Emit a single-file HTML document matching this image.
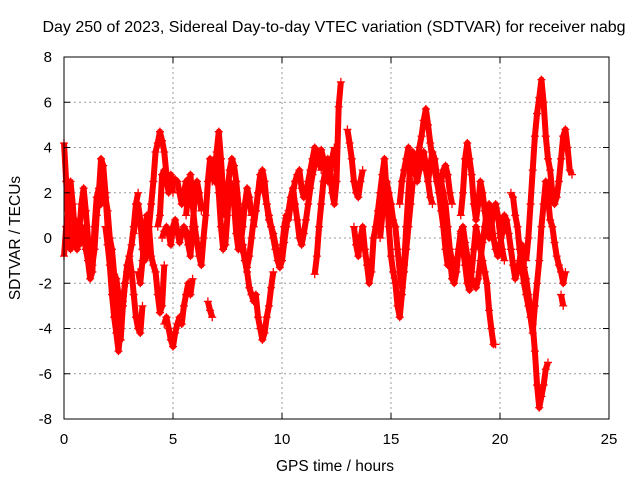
<!DOCTYPE html>
<html><head><meta charset="utf-8"><style>
body{margin:0;background:#fff}
svg{display:block;font-family:"Liberation Sans",sans-serif}
</style></head><body>
<svg id="chart" width="640" height="480" viewBox="0 0 640 480">
<rect width="640" height="480" fill="#fff"/>
<text x="334" y="32" font-size="16" text-anchor="middle">Day 250 of 2023, Sidereal Day-to-day VTEC variation (SDTVAR) for receiver nabg</text>
<g id="grid"></g>
<g id="marks"></g>
<rect x="64" y="57" width="545" height="362" fill="none" stroke="#000" stroke-width="1"/>
<g id="ticks"></g>
<text x="335" y="471" font-size="15.5" text-anchor="middle">GPS time / hours</text>
<text transform="translate(20,238) rotate(-90)" font-size="15.5" text-anchor="middle">SDTVAR / TECUs</text>
</svg>
<script>
const xTicks=[0,5,10,15,20,25];
const yTicks=[-8,-6,-4,-2,0,2,4,6,8];
const trackStarts=[0,0,1.9,3.2,3.4,4.3,4.5,4.6,5.6,6.6,6.8,8.1,8.7,11.5,13.0,13.3,14.5,15.4,16.5,17.3,18.2,20,20.5,21.2,22.8];
const trackValues=[
[-0.8,0.5,1.2,2.5,1.5,0.2,-0.5,0.3,1.5,2.2,1.2,0,-0.8,-1.2,-0.5,1,2,3.5,3.2,2,0.5,-0.5,-1.5,-2.8,-3,-3.5,-4.5,-3,-2,-1.5],
[4.2,2.5,0.5,-0.5,0,0.8,0.2,-0.3,0.5,0.2,-0.5,-1,-1.8,-1.5,0.5,1.8,2.2,1.5,2,1.8,1.2,0,-0.5,-1.6,-1.8,-2.5,-3.2,-2.8,-2,-1.5,-0.8,-0.3,0.5,1.5,2],
[0.5,-0.3,-1.2,-2.5,-3.5,-4.2,-5,-4,-3,-2,-1.2,-0.8,-1.5,-2.5,-3.5,-4,-4.2,-3],
[0.2,1,1.5,0.8,-0.5,-1,-0.8,0.5,1.5,2.5,3.8,4.2,4.7,4.3,3.8,2.8,2.5,2.8,2],
[-1.5,-2,-1,0,1,0.5,-0.8,-1.2,-1.5,-2.5,-3.3,-3,-1.2],
[0.5,1,2.8,3,2.6,2,2.2,2.4,2.6,2.5,2,1.5,2,2.5,2.6,2.2],
[0,0.3,0.5,0.2,-0.3,0.5,0.8,0.3,-0.2,0.2,0.5,0.3,-0.3,-0.8,0.5,1.8,2.5,2,1.2],
[-3.8,-3.5,-4,-4.5,-4.8,-4.2,-3.8,-3.5,-3.8,-3,-2.5,-2,-2.5,-1.8],
[1,2,2.8,1.5,0.5,-0.2,-0.8,-1.2,0,1,2.5,3.5,3,2.5,3.8,4.7,3.5,2,1,2,3,3.5,3.2,2.5,1.5,0.5,-0.5,-1,-1.5,-2.2,-2.5,-2.8,-2.5,-3.5,-4,-4.5,-4.2,-3.5,-3,-2.2,-1.5],
[-2.8,-3.2,-3.5],
[2.5,3.5,3,2,0.5,-0.5,-0.3,1,2.5,2.2,1.5,0.2,-0.5,-0.3,0.5,1.5,2.2,1.8,1],
[-0.5,-0.3,-1,-1.3,-0.8,0,0.8,1.2,2,2.5,2.8,2,1.5,1,0.5,0,-0.5,-1,-1.3,-1,-0.2,0.5,1.2,1.8,2.2,1.5,0.8,0,-0.3,0.2,0.8,1.5,2.2,2.8,3.2,3.5,3.8,3.9,3.5,3,2.5,2.8,3.5,4],
[0.5,1.2,2,2.8,3,2.5,1.5,0.8,0.5,0.2,-0.3,-0.8,-1,-0.5,0.5,1,0.8,1.5,2,2.5,2.8,3,2.2,1.8,2,2.5,3,3.5,4,3.8,3.5,3],
[-1.6,-0.8,0.5,1.5,2.5,3,3.5,3,2,1.5,2.5,5.8,6.9],
[4.8,4.2,3.5,2.5,2,1.8,2.5,3],
[0.5,-0.3,-0.8,0,0.5,-0.5,-1.2,-2,-1.5,0,0.5,1.2,2,2.8,3.5,2,0.5,-0.8,-1.5,-2,-3,-3.5,-2.5,-1.5,-0.5,0.5,1.5,2.5],
[0,1,2,2.5,2,1.5,0.8,0.5,-0.5,-1.5,-2.2,-1.2,0.5,2,3.5,3.8,3.2,2.5,3,3.5,3.8,3.2,2.5,1.8,1.5],
[1.5,2.5,3,3.5,4,3.5,3,2.8,3.2,4,4.5,5.2,5.7,5,4.2,3.5,3,2.5,2,2.5,3,3.2,2.8,2,1.5],
[3.5,3,2.5,3.2,3.8,3.5,2.8,2,1.2,0.5,-0.5,-1.2,-0.8,-1.8,-2,-1.5,-0.5,0.2,-0.5,-1.2,-2,-2.3,-1.5,-0.5,0.5,0,-0.5,-1,-1.5,-2,-3.2,-4,-4.7,-4.7],
[2.5,2,1.5,0.5,-0.5,-1,-1.5,-1.2,-0.5,0.3,0.5,-0.2,-0.8,-1.3,-1.8,-2,-2.2,-1.8,-1,-0.2,0.5,1.2,1.5,0.8,0,-0.5,-0.8,-0.3,0.2,0.5,0.3],
[1,2,3.5,4.2,3.5,2.8,1.5,0.8,1.5,2.5,2,1.2,0.5,0,0.5,1.2,1.5,1,0.2,-0.5,-1],
[0,0.5,1,0.8,0.2,-0.5,-1.2,-1.8,-1.5,-1,-0.3,-1.3,-1.8,-2.5,-3.2,-3.8,-5,-6.5,-7.5,-7,-6.5,-5.8,-5.5],
[2,1.8,1,0.5,-0.5,-1.2,-2,-2.5,-3,-3.5,-4.2,-3,-2,-1,0.5,1.5,2.5,1.8,0.8,0.5,-0.2,-0.8,-1.2,-1.5,-2,-1.5],
[-1,0,1.5,3,4.5,5.5,6.2,7,6,4.5,3.5,3,2,1.5,1.8,2.5,3.5,4.5,4.8,4,3,2.8],
[-2.5,-3]
];
const NS='http://www.w3.org/2000/svg';
const L=64,R=609,T=57,B=419;
function xs(v){return L+(v-0)/(25-0)*(R-L);}
function ys(v){return B-(v+8)/16*(B-T);}
const grid=document.getElementById('grid'),ticks=document.getElementById('ticks'),marks=document.getElementById('marks');
function mk(tag,attrs,parent){const e=document.createElementNS(NS,tag);for(const k in attrs)e.setAttribute(k,attrs[k]);parent.appendChild(e);return e;}
xTicks.forEach(v=>{const x=xs(v);
 if(v>0&&v<25){const g=mk('line',{x1:x,x2:x,y1:T,y2:B,stroke:'#999','stroke-dasharray':'2,3'},grid);
 
 }
 mk('line',{x1:x,x2:x,y1:B,y2:B-6,stroke:'#000'},ticks);mk('line',{x1:x,x2:x,y1:T,y2:T+6,stroke:'#000'},ticks);
 const t=mk('text',{x:x,y:444,'font-size':'15','text-anchor':'middle'},ticks);t.textContent=v;
 
 
});
yTicks.forEach(v=>{const y=ys(v);
 if(v>-8&&v<8){const g=mk('line',{x1:L,x2:R,y1:y,y2:y,stroke:'#999','stroke-dasharray':'2,3'},grid);
 
 }
 mk('line',{x1:L,x2:L+6,y1:y,y2:y,stroke:'#000'},ticks);mk('line',{x1:R,x2:R-6,y1:y,y2:y,stroke:'#000'},ticks);
 const t=mk('text',{x:52,y:y+5,'font-size':'15','text-anchor':'end'},ticks);t.textContent=v;
 
 
});
trackValues.forEach((arr,i)=>{
 const pts=arr.map((v,j)=>xs(trackStarts[i]+j*0.1)+','+ys(v)).join(' ');
 const pl=mk('polyline',{points:pts,stroke:'#f00','stroke-width':'6','stroke-linejoin':'round',fill:'none'},marks);
 
 
 arr.forEach((v,j)=>{
 const x=xs(trackStarts[i]+j*0.1),y=ys(v);
 const p=mk('path',{d:`M${x-4} ${y}H${x+4}M${x} ${y-4}V${y+4}`,stroke:'#f00','stroke-width':'1.3',fill:'none'},marks);
 
 
});});
</script>
</body></html>
